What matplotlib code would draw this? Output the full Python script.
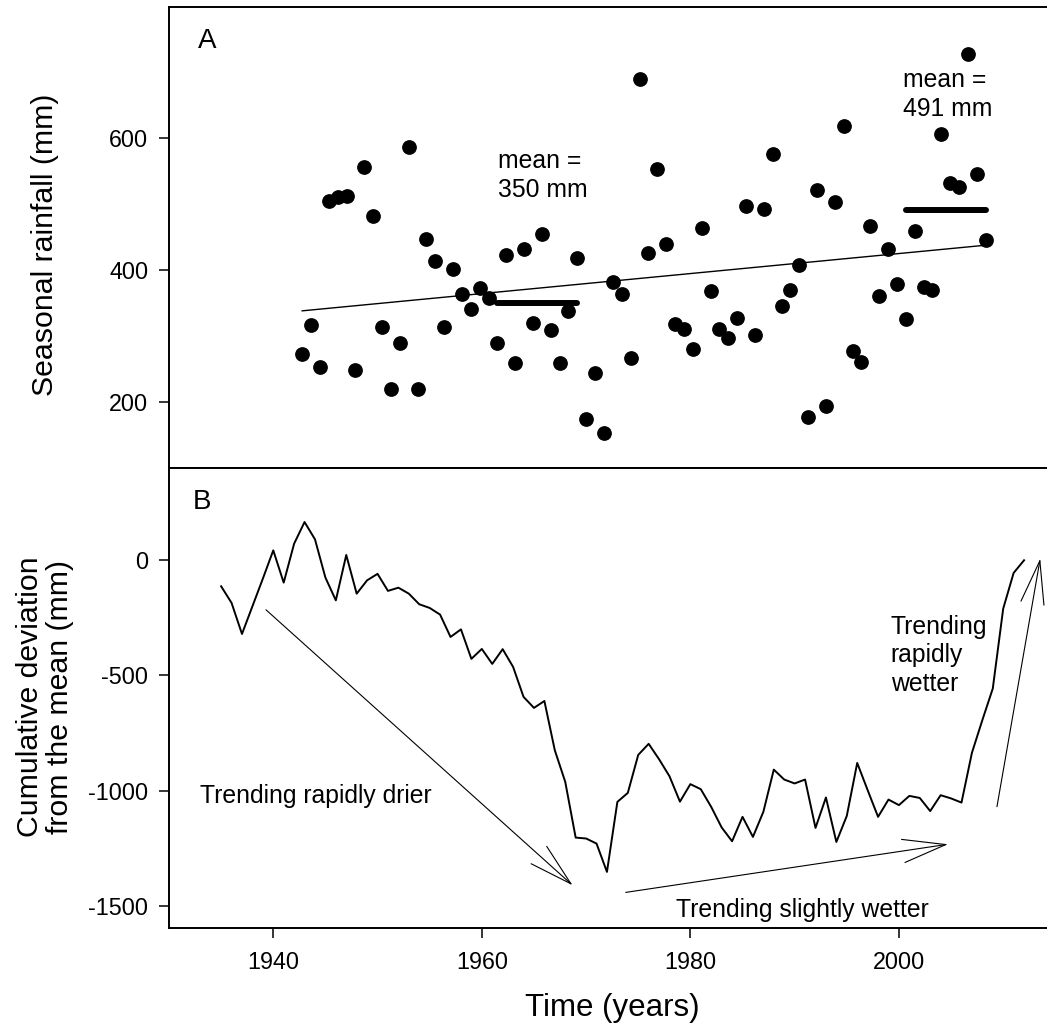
import numpy as np
import matplotlib
matplotlib.use("Agg")
import matplotlib.pyplot as plt

plt.rcParams['font.family'] = ['Liberation Sans', 'DejaVu Sans']
plt.rcParams['axes.unicode_minus'] = False

# panel A: seasonal rainfall, one value per year 1935-2012
years = np.arange(1935, 2013)
rainfall = [273, 316, 253, 504, 510, 512, 249, 555, 482, 314,
            220, 290, 586, 220, 447, 413, 314, 402, 363, 341,
            373, 358, 290, 422, 260, 431, 320, 454, 309, 260,
            338, 418, 175, 244, 154, 382, 364, 267, 688, 426,
            553, 439, 319, 310, 281, 464, 368, 311, 297, 328,
            496, 301, 492, 575, 345, 369, 407, 177, 521, 194,
            502, 617, 277, 261, 467, 360, 432, 379, 326, 459,
            374, 369, 605, 532, 525, 727, 545, 445]

# period means drawn as thick bars
mean_periods = [(1957, 1966), (2003, 2012)]
mean_values = [350, 491]

# panel B: cumulative deviation from the mean
cumdev = [-113, -185, -320, -200, -80, 43, -97, 72, 166, 91,
          -75, -174, 23, -145, -87, -59, -133, -119, -145, -191,
          -207, -236, -333, -300, -428, -385, -450, -386, -463, -593,
          -641, -611, -825, -962, -1204, -1208, -1230, -1353, -1049, -1010,
          -845, -797, -864, -938, -1048, -972, -994, -1071, -1160, -1220,
          -1114, -1201, -1092, -909, -952, -969, -952, -1162, -1030, -1223,
          -1110, -880, -998, -1114, -1039, -1063, -1023, -1032, -1089, -1020,
          -1034, -1052, -836, -694, -557, -210, -55, 0]

# trend arrows in panel B: (tail, tip)
trend_arrows = [((1939.3, -215), (1968.7, -1411)),
                ((1973.8, -1442), (2004.7, -1233)),
                ((2009.4, -1070), (2013.55, 7))]

fig = plt.figure(figsize=(10.47, 10.34), dpi=100)
axA = fig.add_axes([0.1614, 0.5477, 0.8386, 0.4458])
axB = fig.add_axes([0.1614, 0.1022, 0.8386, 0.4455])

for ax in (axA, axB):
    ax.spines['right'].set_visible(False)
    for s in ('left', 'top', 'bottom'):
        ax.spines[s].set_linewidth(1.4)
    ax.tick_params(direction='out', length=7, width=1.1, labelsize=16.8, pad=8)

fs = 17.8  # annotation size

# ---- panel A
axA.plot(years, rainfall, 'o', color='black', markersize=9.6, zorder=3)
k, b = np.polyfit(years, rainfall, 1)
axA.plot([years[0], years[-1]], [k*years[0]+b, k*years[-1]+b], color='black', lw=1.0)
for (y0, y1), m in zip(mean_periods, mean_values):
    axA.plot([y0, y1], [m, m], color='black', lw=4.3, solid_capstyle='round')
# va='baseline' puts the last line on y
axA.text(1957.1, 511, 'mean =\n350 mm', fontsize=fs, va='baseline', ha='left', linespacing=1.23)
axA.text(2002.7, 633, 'mean =\n491 mm', fontsize=fs, va='baseline', ha='left', linespacing=1.23)
axA.text(0.033, 0.954, 'A', transform=axA.transAxes, fontsize=20, va='top', ha='left')
axA.set_xlim(1920, 2018.9)
axA.set_ylim(101, 798)
axA.set_yticks([200, 400, 600])
axA.tick_params(axis='x', bottom=False, labelbottom=False)

# ---- panel B
axB.plot(years, cumdev, color='black', lw=1.4)
for tail, tip in trend_arrows:
    axB.annotate('', xy=tip, xytext=tail,
                 arrowprops=dict(arrowstyle='->,head_length=3.1,head_width=0.84',
                                 mutation_scale=10, lw=0.8, color='black',
                                 shrinkA=0, shrinkB=0))
axB.text(1933.0, -1056, 'Trending rapidly drier', fontsize=fs, va='baseline', ha='left')
axB.text(1978.6, -1548, 'Trending slightly wetter', fontsize=fs, va='baseline', ha='left')
axB.text(1999.2, -566, 'Trending\nrapidly\nwetter', fontsize=fs, va='baseline', ha='left', linespacing=1.23)
axB.text(0.027, 0.953, 'B', transform=axB.transAxes, fontsize=20, va='top', ha='left')
axB.set_xlim(1930, 2014.2)
axB.set_ylim(-1598, 402)
axB.set_xticks([1940, 1960, 1980, 2000])
axB.set_yticks([0, -500, -1000, -1500])
axB.tick_params(axis='x', pad=9)

fig.text(45/1047, 1-245/1034, 'Seasonal rainfall (mm)', rotation=90, fontsize=21.8, ha='center', va='center')
fig.text(45/1047, 1-697/1034, 'Cumulative deviation\nfrom the mean (mm)', rotation=90, fontsize=21.8,
         ha='center', va='center', linespacing=1.05)
fig.text(612/1047, 1-1008/1034, 'Time (years)', fontsize=22.5, ha='center', va='center')

fig.savefig('out.png', dpi=100)
